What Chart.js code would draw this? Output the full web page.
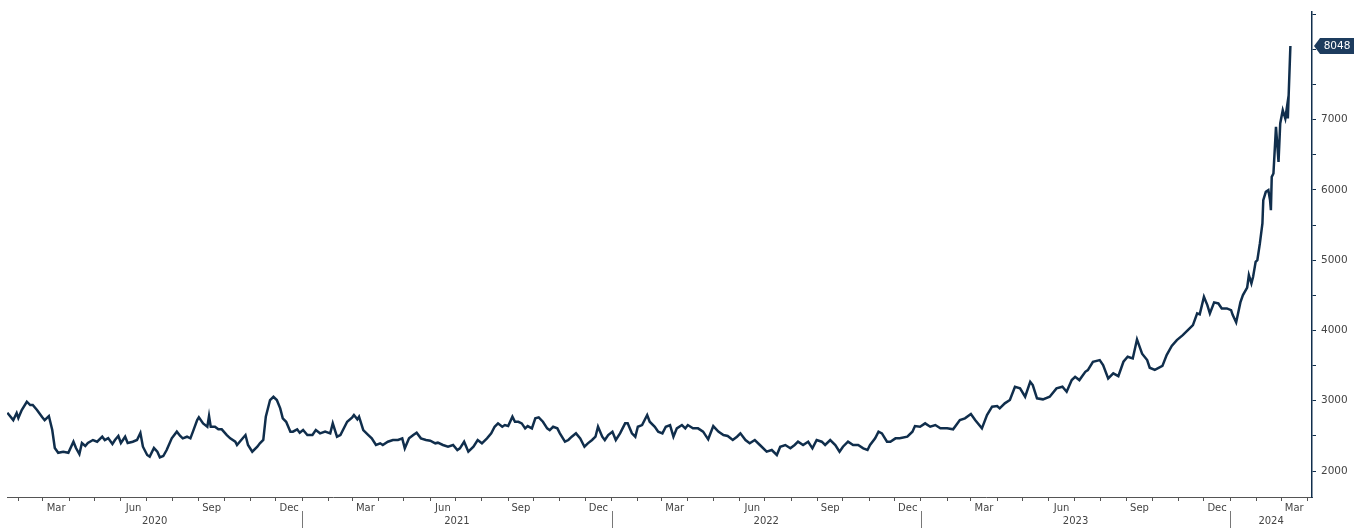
<!DOCTYPE html>
<html>
<head>
<meta charset="utf-8">
<script src="https://cdn.jsdelivr.net/npm/chart.js@4.4.1/dist/chart.umd.min.js"></script>
<style>
  body { margin: 0; background: #fff; }
  #wrap { width: 1362px; height: 530px; }
</style>
</head>
<body>
<div id="wrap"><canvas id="myChart"></canvas></div>
<script>
// price series
let dates = [
  "2020-01-19","2020-01-26","2020-01-30","2020-02-01","2020-02-05","2020-02-11","2020-02-15","2020-02-18","2020-02-23","2020-02-29",
  "2020-03-03","2020-03-08","2020-03-12","2020-03-15","2020-03-19","2020-03-25","2020-03-31","2020-04-06","2020-04-09","2020-04-13",
  "2020-04-16","2020-04-20","2020-04-23","2020-04-29","2020-05-04","2020-05-10","2020-05-13","2020-05-17","2020-05-22","2020-05-25",
  "2020-05-29","2020-06-01","2020-06-06","2020-06-09","2020-06-15","2020-06-20","2020-06-24","2020-06-27","2020-07-02","2020-07-05",
  "2020-07-10","2020-07-14","2020-07-17","2020-07-21","2020-07-25","2020-07-31","2020-08-06","2020-08-10","2020-08-13","2020-08-18",
  "2020-08-22","2020-08-25","2020-08-30","2020-09-01","2020-09-06","2020-09-11","2020-09-13","2020-09-15","2020-09-20","2020-09-24",
  "2020-09-28","2020-10-04","2020-10-08","2020-10-14","2020-10-16","2020-10-21","2020-10-26","2020-10-29","2020-11-03","2020-11-09",
  "2020-11-12","2020-11-16","2020-11-19","2020-11-24","2020-11-28","2020-12-02","2020-12-06","2020-12-09","2020-12-13","2020-12-18",
  "2020-12-21","2020-12-26","2020-12-29",
  "2021-01-02","2021-01-07","2021-01-13","2021-01-17","2021-01-22","2021-01-28","2021-02-03","2021-02-06","2021-02-11","2021-02-15",
  "2021-02-23","2021-03-01","2021-03-03","2021-03-07","2021-03-09","2021-03-14","2021-03-20","2021-03-24","2021-03-29","2021-04-03",
  "2021-04-06","2021-04-12","2021-04-18","2021-04-24","2021-04-29","2021-05-02","2021-05-07","2021-05-12","2021-05-16","2021-05-21",
  "2021-05-27","2021-06-01","2021-06-07","2021-06-10","2021-06-16","2021-06-22","2021-06-28","2021-07-03","2021-07-06","2021-07-11",
  "2021-07-16","2021-07-22","2021-07-27","2021-08-01","2021-08-07","2021-08-12","2021-08-16","2021-08-20","2021-08-25","2021-08-28",
  "2021-09-01","2021-09-06","2021-09-09","2021-09-13","2021-09-17","2021-09-21","2021-09-24","2021-09-29","2021-10-03","2021-10-07",
  "2021-10-12","2021-10-17","2021-10-20","2021-10-24","2021-10-29","2021-11-01","2021-11-07","2021-11-11","2021-11-15","2021-11-20",
  "2021-11-25","2021-11-30","2021-12-04","2021-12-09","2021-12-13","2021-12-16","2021-12-21","2021-12-24","2021-12-28",
  "2022-01-02","2022-01-06","2022-01-11","2022-01-17","2022-01-20","2022-01-25","2022-01-29","2022-02-01","2022-02-06","2022-02-12",
  "2022-02-15","2022-02-21","2022-02-25","2022-03-02","2022-03-06","2022-03-11","2022-03-15","2022-03-19","2022-03-25","2022-03-29",
  "2022-04-01","2022-04-07","2022-04-13","2022-04-19","2022-04-25","2022-05-01","2022-05-07","2022-05-13","2022-05-18","2022-05-24",
  "2022-05-29","2022-06-02","2022-06-08","2022-06-13","2022-06-19","2022-06-25","2022-07-03","2022-07-09","2022-07-15","2022-07-19",
  "2022-07-25","2022-07-31","2022-08-05","2022-08-09","2022-08-15","2022-08-21","2022-08-26","2022-08-31","2022-09-06","2022-09-10",
  "2022-09-16","2022-09-22","2022-09-27","2022-10-01","2022-10-07","2022-10-13","2022-10-19","2022-10-25","2022-10-30","2022-11-02",
  "2022-11-08","2022-11-12","2022-11-16","2022-11-22","2022-11-26","2022-12-02","2022-12-07","2022-12-16","2022-12-22","2022-12-25",
  "2022-12-31",
  "2023-01-06","2023-01-12","2023-01-18","2023-01-24","2023-02-01","2023-02-08","2023-02-16","2023-02-22","2023-03-01","2023-03-06",
  "2023-03-14","2023-03-20","2023-03-26","2023-04-01","2023-04-04","2023-04-10","2023-04-16","2023-04-22","2023-04-28","2023-05-04",
  "2023-05-10","2023-05-13","2023-05-18","2023-05-25","2023-06-02","2023-06-10","2023-06-17","2023-06-22","2023-06-28","2023-07-02",
  "2023-07-07","2023-07-14","2023-07-17","2023-07-23","2023-07-31","2023-08-04","2023-08-10","2023-08-16","2023-08-22","2023-08-28",
  "2023-09-02","2023-09-08","2023-09-13","2023-09-19","2023-09-25","2023-09-28","2023-10-04","2023-10-13","2023-10-18","2023-10-24",
  "2023-10-30","2023-11-06","2023-11-12","2023-11-18","2023-11-23","2023-11-26","2023-12-01","2023-12-05","2023-12-08","2023-12-13",
  "2023-12-18","2023-12-22","2023-12-28",
  "2024-01-02","2024-01-04","2024-01-08","2024-01-13","2024-01-16","2024-01-21","2024-01-23","2024-01-26","2024-01-28","2024-01-31",
  "2024-02-02","2024-02-05","2024-02-08","2024-02-09","2024-02-12","2024-02-15","2024-02-17","2024-02-18","2024-02-19","2024-02-21",
  "2024-02-24","2024-02-27","2024-02-29","2024-03-03","2024-03-06","2024-03-08","2024-03-09","2024-03-12"
];
let prices = [
  2829,2725,2825,2754,2868,2986,2939,2939,2868,2768,
  2725,2782,2583,2327,2260,2275,2260,2417,2327,2242,
  2398,2356,2398,2441,2417,2488,2441,2469,2384,2441,
  2498,2398,2488,2398,2417,2441,2540,2346,2228,2204,
  2327,2275,2195,2213,2299,2465,2560,2498,2465,2488,
  2465,2560,2725,2764,2678,2630,2782,2630,2630,2593,
  2593,2512,2465,2417,2370,2441,2512,2370,2275,2346,
  2394,2441,2773,3010,3057,3010,2892,2750,2701,2560,
  2560,2593,2545,
  2583,2512,2512,2583,2536,2560,2536,2678,2488,2512,
  2701,2764,2797,2735,2773,2583,2512,2465,2370,2394,
  2370,2417,2441,2441,2465,2323,2465,2512,2545,2465,
  2441,2431,2394,2403,2370,2346,2370,2299,2323,2417,
  2275,2346,2441,2394,2465,2536,2630,2678,2630,2654,
  2640,2773,2701,2701,2678,2607,2640,2607,2750,2764,
  2701,2607,2583,2630,2607,2536,2417,2441,2488,2536,
  2465,2346,2394,2441,2488,2630,2488,2441,2512,
  2560,2441,2536,2678,2678,2536,2488,2630,2654,2797,
  2701,2630,2560,2536,2630,2654,2488,2607,2654,2607,
  2654,2607,2607,2560,2451,2640,2560,2512,2498,2441,
  2488,2536,2441,2394,2441,2370,2275,2299,2228,2346,
  2370,2323,2370,2417,2370,2417,2323,2441,2417,2370,
  2441,2370,2275,2346,2417,2370,2370,2323,2299,2370,
  2465,2560,2536,2417,2417,2465,2465,2488,2560,2640,
  2630,
  2678,2630,2654,2607,2607,2593,2725,2750,2811,2725,
  2607,2797,2915,2925,2892,2963,3010,3199,3176,3057,
  3270,3223,3034,3020,3057,3176,3199,3128,3294,3341,
  3294,3412,3437,3555,3579,3508,3318,3390,3351,3555,
  3626,3602,3873,3670,3579,3470,3440,3495,3650,3780,
  3863,3934,4006,4077,4243,4230,4479,4361,4243,4400,
  4385,4314,4314,
  4290,4219,4115,4400,4504,4610,4788,4670,4764,4977,
  5001,5239,5523,5855,5973,5997,5855,5713,6187,6234,
  6898,6400,6946,7135,7017,7183,7017,8048
];
let monthNames = ["Jan","Feb","Mar","Apr","May","Jun","Jul","Aug","Sep","Oct","Nov","Dec"];
let labelMonths = [2, 5, 8, 11];
let years = [2020, 2021, 2022, 2023, 2024];
let yTicks = [2000, 2500, 3000, 3500, 4000, 4500, 5000, 5500, 6000, 6500, 7000, 7500, 8000, 8500];

let navy = "#102e4c";

function dayNum(y, m, d) {
    return (Date.UTC(y, m, d) - Date.UTC(2020, 0, 1)) / 864e5;
}
function dayOf(s) {
    let p = s.split("-").map(Number);
    return dayNum(p[0], p[1] - 1, p[2]);
}

let points = [];
for (let i = 0; i < dates.length; ++i) {
    points.push({x: dayOf(dates[i]), y: prices[i]});
}

let xMin = 17.6, xMax = 1557.5;

let yearRow = {
    id: "yearRow",
    afterDraw(chart) {
        let ctx = chart.ctx, xs = chart.scales.x;
        ctx.save();
        ctx.font = "10px 'DejaVu Sans'";
        ctx.fillStyle = "#444";
        ctx.textAlign = "center";
        ctx.textBaseline = "middle";
        for (let y of years) {
            let a = Math.max(dayNum(y, 0, 1), xs.min);
            let b = Math.min(dayNum(y + 1, 0, 1), xs.max);
            let mid = (xs.getPixelForValue(a) + xs.getPixelForValue(b)) / 2;
            ctx.fillText(String(y), mid, 521);
            if (y > 2020) {
                let px = Math.round(xs.getPixelForValue(dayNum(y, 0, 1))) + 0.5;
                ctx.strokeStyle = "#777";
                ctx.lineWidth = 1;
                ctx.beginPath();
                ctx.moveTo(px, 511);
                ctx.lineTo(px, 528);
                ctx.stroke();
            }
        }
        // last value tag
        let last = prices[prices.length - 1];
        let ys = chart.scales.y;
        let py = ys.getPixelForValue(last);
        let x0 = chart.chartArea.right + 2;
        ctx.fillStyle = "#1d3c5e";
        ctx.beginPath();
        ctx.moveTo(x0, py);
        ctx.lineTo(x0 + 6, py - 8);
        ctx.lineTo(x0 + 40, py - 8);
        ctx.lineTo(x0 + 40, py + 8);
        ctx.lineTo(x0 + 6, py + 8);
        ctx.closePath();
        ctx.fill();
        ctx.font = "10.5px 'DejaVu Sans'";
        ctx.fillStyle = "#fff";
        ctx.fillText(String(last), x0 + 23, py + 0.5);
        ctx.restore();
    }
};

new Chart("myChart", {
    type: "line",
    data: {
        datasets: [{
            data: points,
            borderColor: navy,
            borderWidth: 2.5,
            pointRadius: 0,
            tension: 0,
            fill: false
        }]
    },
    options: {
        responsive: true,
        maintainAspectRatio: false,
        animation: false,
        layout: {padding: {left: 7, top: 0, right: 0, bottom: 0}},
        plugins: {legend: {display: false}, tooltip: {enabled: false}},
        scales: {
            x: {
                type: "linear",
                min: xMin,
                max: xMax,
                afterBuildTicks(scale) {
                    let t = [];
                    for (let y = 2020; y <= 2024; ++y) {
                        for (let m = 0; m < 12; ++m) {
                            let d0 = dayNum(y, m, 1);
                            let d1 = dayNum(y, m + 1, 1);
                            if (d0 >= xMin && d0 <= xMax) t.push({value: d0});
                            if (labelMonths.includes(m) && (d0 + d1) / 2 >= xMin && (d0 + d1) / 2 <= xMax) {
                                t.push({value: (d0 + d1) / 2, name: monthNames[m]});
                            }
                        }
                    }
                    scale.ticks = t;
                },
                afterFit(scale) { scale.height = 33; },
                border: {color: "#555", width: 1},
                grid: {
                    drawOnChartArea: false,
                    drawTicks: true,
                    tickLength: 4,
                    tickColor: (c) => (c.tick && c.tick.name) ? "rgba(0,0,0,0)" : "#555"
                },
                ticks: {
                    autoSkip: false,
                    maxRotation: 0,
                    padding: 1,
                    color: "#444",
                    font: {family: "DejaVu Sans", size: 10},
                    callback: (v, i, t) => t[i].name || ""
                }
            },
            y: {
                position: "right",
                min: 1630,
                max: 8543,
                afterBuildTicks(scale) {
                    scale.ticks = yTicks.map(v => ({value: v}));
                },
                afterFit(scale) { scale.width = 50; },
                border: {color: navy, width: 1.5},
                grid: {drawOnChartArea: false, tickLength: 4, tickColor: navy},
                ticks: {
                    padding: 5,
                    color: "#444",
                    font: {family: "DejaVu Sans", size: 10.5},
                    callback: v => (v % 1000 === 0 ? String(v) : "")
                }
            }
        }
    },
    plugins: [yearRow]
});
</script>
</body>
</html>
